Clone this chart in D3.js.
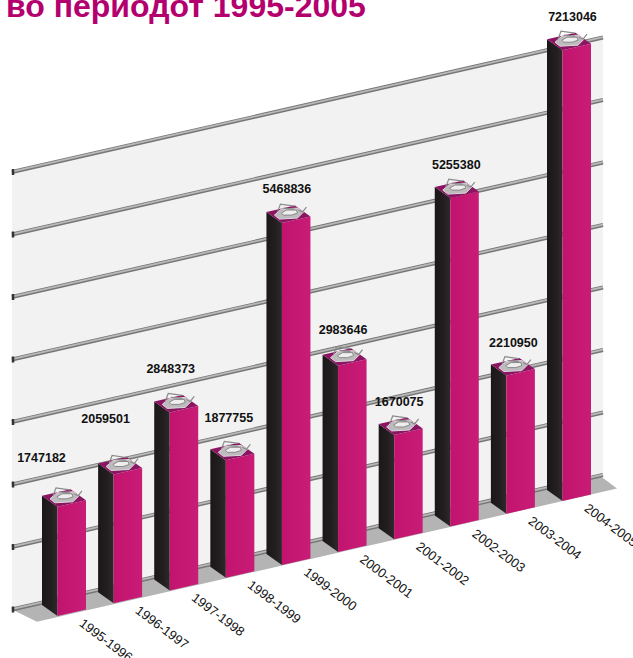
<!DOCTYPE html>
<html><head><meta charset="utf-8">
<script src="https://cdn.jsdelivr.net/npm/d3@7"></script>
<style>html,body{margin:0;padding:0;background:#fff;overflow:hidden}svg{display:block}text{font-family:"Liberation Sans",Arial,sans-serif}</style>
</head><body><script>
const titleText = "во периодот 1995-2005";
const periods = ["1995-1996","1996-1997","1997-1998","1998-1999","1999-2000","2000-2001","2001-2002","2002-2003","2003-2004","2004-2005"];
const amounts = [1747182,2059501,2848373,1877755,5468836,2983646,1670075,5255380,2210950,7213046];
const gridTicks = [0,1000000,2000000,3000000,4000000,5000000,6000000,7000000];
const labelDx = [-16,-8,1,3,5,5,5,6,7,10];
const labelDy = [-45,-52,-39,-38,-30,-32,-29,-29,-29,-29];

const W=633,H=658;
const svg=d3.select("body").append("svg").attr("width",W).attr("height",H);
const x=d3.scalePoint().domain(periods).range([57.5,562.5]);
const floorY=d3.scaleLinear().domain([57.5,562.5]).range([616,501]);
const h=d3.scaleLinear().domain([0,7000000]).range([0,437.5]);
const faceW=28.5, depth=[-15.5,-11], wallOff=[-30,-9];
const wallBase=px=>floorY(px-wallOff[0])+wallOff[1]-1;
const poly=p=>p.map(d=>d.join(",")).join(" ");

const defs=svg.append("defs");
const gf=defs.append("linearGradient").attr("id","front");
gf.append("stop").attr("offset",0).attr("stop-color","#c2146f");
gf.append("stop").attr("offset",1).attr("stop-color","#c81c76");
const gl=defs.append("linearGradient").attr("id","side");
gl.append("stop").attr("offset",0).attr("stop-color","#1b1718");
gl.append("stop").attr("offset",.6).attr("stop-color","#231f20");
gl.append("stop").attr("offset",1).attr("stop-color","#2e2a2b");

const L=12,R=603;
// wall and floor
svg.append("polygon").attr("fill","#f2f2f2")
  .attr("points",poly([[L,wallBase(L)-h(7000000)],[R,wallBase(R)-h(7000000)],[R,wallBase(R)],[L,wallBase(L)]]));
svg.append("polygon").attr("fill","#b4b4b4")
  .attr("points",poly([[L,wallBase(L)],[R-3,wallBase(R-3)],[617,floorY(617)],[37,floorY(37)+1]]));

// gridlines
const grid=svg.append("g").selectAll("g").data(gridTicks).join("g");
const gy=(t,px)=>wallBase(px)-h(t);
grid.append("line").attr("x1",L).attr("x2",R).attr("y1",t=>gy(t,L)).attr("y2",t=>gy(t,R)).attr("stroke","#767676").attr("stroke-width",4);
grid.append("line").attr("x1",L).attr("x2",R).attr("y1",t=>gy(t,L)-.3).attr("y2",t=>gy(t,R)-.3).attr("stroke","#b9b9b9").attr("stroke-width",1.8);
grid.append("line").attr("x1",L+1).attr("x2",L+1).attr("y1",t=>gy(t,L)-3).attr("y2",t=>gy(t,L)+3).attr("stroke","#333").attr("stroke-width",2.5);

// bars
const bars=svg.append("g").selectAll("g").data(periods.map((p,i)=>({p,v:amounts[i],i}))).join("g");
const fx=d=>x(d.p), fb=d=>floorY(x(d.p)), ft=d=>fb(d)-h(d.v);
const slope=floorY(158.5)-floorY(130);
bars.append("polygon").attr("fill","url(#side)").attr("points",d=>poly([[fx(d),fb(d)],[fx(d),ft(d)],[fx(d)+depth[0],ft(d)+depth[1]],[fx(d)+depth[0],fb(d)+depth[1]]]));
bars.append("polygon").attr("fill","url(#front)").attr("points",d=>poly([[fx(d),fb(d)],[fx(d),ft(d)],[fx(d)+faceW,ft(d)+slope],[fx(d)+faceW,fb(d)+slope]]));
bars.append("polygon").attr("fill","#8c1563").attr("points",d=>poly([[fx(d),ft(d)],[fx(d)+faceW,ft(d)+slope],[fx(d)+faceW+depth[0],ft(d)+slope+depth[1]],[fx(d)+depth[0],ft(d)+depth[1]]]));

// silver tray on top of each bar
const tray=bars.append("g").attr("transform",d=>`translate(${fx(d)+6.5},${ft(d)-10})`);
tray.append("polygon").attr("fill","#bdbbbd").attr("stroke","#dcdadc").attr("stroke-width",1).attr("points","-14,2 -7,-4 9,-5 15,-1 9,5 -9,6");
tray.append("polygon").attr("fill","#efeeef").attr("stroke","#777").attr("stroke-width",.8).attr("points","-7,0 -2,-3 8,-3 9,0 3,2 -5,2");
tray.append("path").attr("fill","none").attr("stroke","#8a8a8a").attr("stroke-width",1.2).attr("d","M-11,-1L-8,-9L6,-7M10,-3L14,-1L18,-6M-5,-5L6,-4");

// value labels
svg.append("g").selectAll("text").data(periods.map((p,i)=>({p,v:amounts[i],i}))).join("text")
  .attr("x",d=>fx(d)+labelDx[d.i]).attr("y",d=>ft(d)+labelDy[d.i])
  .attr("text-anchor","middle").attr("font-size",12.5).attr("font-weight","bold").attr("fill","#111")
  .text(d=>d.v);

// period labels
svg.append("g").selectAll("text").data(periods).join("text")
  .attr("transform",p=>`translate(${x(p)+21},${floorY(x(p))+9}) rotate(37)`)
  .attr("font-size",13).attr("fill","#111").text(p=>p);

// title
svg.append("text").attr("x",6).attr("y",17).attr("font-size",32).attr("font-weight","bold").attr("fill","#b3006e").text(titleText);
</script></body></html>
